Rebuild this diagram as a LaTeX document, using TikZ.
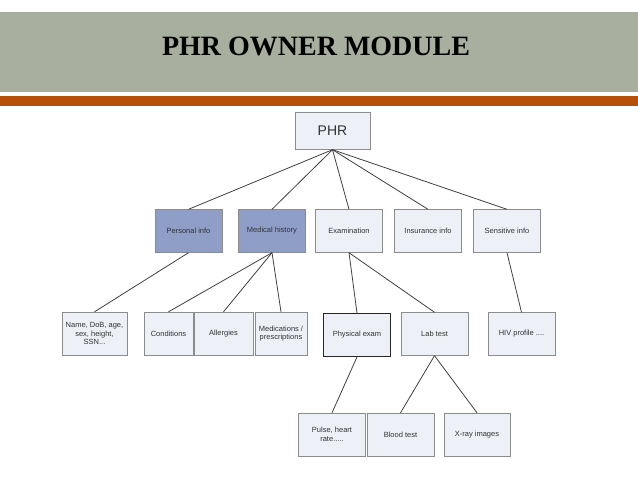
\documentclass[tikz,border=0pt]{standalone}
\usepackage{fontspec}
\setmainfont{Liberation Serif}
\setsansfont{Liberation Sans}
\usetikzlibrary{positioning}

\definecolor{bannergray}{HTML}{A9AF9F}
\definecolor{barorange}{HTML}{B65009}
\definecolor{boxfill}{HTML}{EDF0F7}
\definecolor{boxdark}{HTML}{8E9EC7}
\definecolor{boxline}{HTML}{8C8C8C}

\begin{document}
\begin{tikzpicture}[x=1pt, y=-1pt]

\tikzset{
  block/.style={
    rectangle, draw=boxline, fill=boxfill, align=center,
    minimum height=43pt, minimum width=67pt,
    inner sep=2pt, text=black!80,
    font=\sffamily\fontsize{7.5}{8.5}\selectfont
  },
  darkblock/.style={block, fill=boxdark},
  link/.style={draw=black!75, line width=0.8pt}
}

\useasboundingbox (0,0) rectangle (638,479);

% ==========================
% Title banner
% ==========================
\fill[bannergray] (0,12) rectangle (638,92);
\fill[barorange] (0,96) rectangle (638,106);
\node[font=\bfseries\fontsize{28}{30}\selectfont, anchor=base] (title) at (316,55)
{PHR OWNER MODULE};

% ==========================
% Root + first level
% ==========================
\node[block, minimum width=75pt, minimum height=37pt,
      font=\sffamily\fontsize{14}{16}\selectfont] (phr) at (332.5,131) {PHR};

\node[darkblock] (personal)  at (188.5,231) {Personal info};
\node[darkblock] (medical)   at (272,231)   {Medical history};
\node[block]     (exam)      at (349,231)   {Examination};
\node[block]     (insurance) at (428,231)   {Insurance info};
\node[block]     (sensitive) at (507,231)   {Sensitive info};

\foreach \n in {personal, medical, exam, insurance, sensitive}
  \draw[link] (phr.south) -- (\n.north);

% ==========================
% Second level
% ==========================
\node[block, minimum width=65pt] (name)        at (94.5,333.5) {Name, DoB, age,\\sex, height,\\SSN...};
\node[block, minimum width=49pt] (conditions)  at (168.5,333.5) {Conditions};
\node[block, minimum width=59pt] (allergies)   at (223.5,333.5) {Allergies};
\node[block, minimum width=52pt] (medications) at (281,333.5)   {Medications /\\prescriptions};

\node[block, draw=black!85, line width=0.9pt] (physical) at (357,335) {Physical exam};
\node[block] (labtest) at (434.5,334) {Lab test};
\node[block] (hiv)     at (521.5,334) {HIV profile ....};

\draw[link] (personal.south) -- (name.north);
\foreach \n in {conditions, allergies, medications}
  \draw[link] (medical.south) -- (\n.north);
\draw[link] (exam.south) -- (physical.north);
\draw[link] (exam.south) -- (labtest.north);
\draw[link] (sensitive.south) -- (hiv.north);

% ==========================
% Third level
% ==========================
\node[block] (pulse) at (332,434.5)   {Pulse, heart\\rate.....};
\node[block] (blood) at (400.5,434.5) {Blood test};
\node[block, minimum width=66pt] (xray) at (477,434.5) {X-ray images};

\draw[link] (physical.south) -- (pulse.north);
\draw[link] (labtest.south) -- (blood.north);
\draw[link] (labtest.south) -- (xray.north);

\end{tikzpicture}
\end{document}
